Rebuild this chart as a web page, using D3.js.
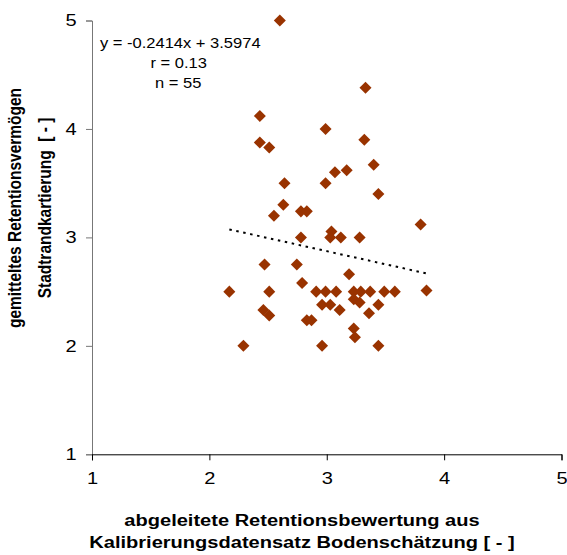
<!DOCTYPE html>
<html lang="de">
<meta charset="utf-8">
<head>
    <script src="https://d3js.org/d3.v7.min.js"></script>
    <style>
        body { margin: 0; background: #fff; }
        text { font-family: Arial, "Liberation Sans", sans-serif; white-space: pre; }
    </style>
</head>
<body>
<script>
// Bodenschätzung (x) vs. Stadtrandkartierung (y)
const xValues = [2.60, 3.33, 2.43, 2.99, 2.43, 2.51, 3.32, 3.40, 3.07, 3.17,
                 2.64, 2.99, 3.44, 2.63, 2.55, 2.78, 2.83, 3.80, 2.78, 3.04,
                 3.03, 3.12, 3.28, 2.47, 2.745, 3.19, 2.79, 2.17, 2.51, 2.91,
                 2.99, 3.08, 3.23, 3.29, 3.37, 3.49, 3.58, 3.85, 2.46, 2.51,
                 2.96, 3.03, 3.11, 3.23, 3.28, 3.44, 3.36, 2.83, 2.87, 3.23,
                 3.24, 2.29, 2.96, 3.44];
const yValues = [5.00, 4.38, 4.12, 4.00, 3.875, 3.83, 3.90, 3.67, 3.60, 3.62,
                 3.50, 3.50, 3.40, 3.30, 3.20, 3.24, 3.24, 3.12, 3.00, 3.055,
                 3.00, 3.00, 3.00, 2.75, 2.75, 2.66, 2.58, 2.50, 2.50, 2.50,
                 2.50, 2.50, 2.50, 2.50, 2.50, 2.50, 2.50, 2.51, 2.33, 2.28,
                 2.38, 2.38, 2.33, 2.43, 2.40, 2.38, 2.30, 2.235, 2.235, 2.16,
                 2.08, 2.00, 2.00, 2.00];
const xTicks = [1, 2, 3, 4, 5];
const yTicks = [1, 2, 3, 4, 5];
const slope = -0.2414, intercept = 3.5974;
const statLines = ["y = -0.2414x + 3.5974", "r = 0.13", "n = 55"];
const xTitle = ["abgeleitete Retentionsbewertung aus", "Kalibrierungsdatensatz Bodenschätzung [ - ]"];
const yTitle = ["gemitteltes Retentionsvermögen", "Stadtrandkartierung  [ - ]"];

const W = 567, H = 555;
const plot = {left: 92, right: 561.5, top: 20.5, bottom: 454.3};
const sx = 1.18; // horizontal stretch of the original picture's text

const svg = d3.select("body").append("svg")
    .attr("width", W).attr("height", H);

const x = d3.scaleLinear().domain([1, 5]).range([plot.left, plot.right]);
const y = d3.scaleLinear().domain([1, 5]).range([plot.bottom, plot.top]);

const data = xValues.map((v, i) => ({x: v, y: yValues[i]}));

// axes
const yAxis = svg.append("g")
    .attr("transform", "translate(" + plot.left + ",0)")
    .call(d3.axisLeft(y).tickValues(yTicks).tickFormat(d3.format("d")).tickSizeOuter(0).tickSize(6).tickPadding(7));
yAxis.select(".domain").attr("stroke", "#777");
yAxis.selectAll(".tick line").attr("stroke", "#777");

const xAxis = svg.append("g")
    .attr("transform", "translate(0," + plot.bottom + ")")
    .call(d3.axisBottom(x).tickValues(xTicks).tickFormat(d3.format("d")).tickSizeOuter(0).tickSize(6).tickPadding(9));
xAxis.select(".domain").attr("stroke", "#000");
xAxis.selectAll(".tick line").attr("stroke", "#000");

svg.selectAll(".tick text")
    .attr("font-size", 17)
    .attr("fill", "#000")
    .attr("transform", "scale(" + sx + ",1)")
    .attr("font-family", "Arial, 'Liberation Sans', sans-serif");
xAxis.selectAll(".tick text").attr("dy", "0.85em");

// regression line
const ext = d3.extent(xValues);
svg.append("path")
    .datum(ext.map(v => ({x: v, y: slope * v + intercept})))
    .attr("fill", "none")
    .attr("stroke", "#000")
    .attr("stroke-width", 2)
    .attr("stroke-dasharray", "2.5,4.6")
    .attr("d", d3.line().x(d => x(d.x)).y(d => y(d.y)));

// points
svg.append("g").selectAll("path")
    .data(data)
    .join("path")
    .attr("transform", d => "translate(" + x(d.x) + "," + y(d.y) + ")")
    .attr("d", d3.symbol().type(d3.symbolDiamond2).size(92))
    .attr("fill", "#993300");

// stats text
const stats = svg.append("g");
[[100, 47.5], [150.5, 68], [155, 87.5]].forEach((p, i) => {
    stats.append("text")
        .attr("transform", "translate(" + p[0] + "," + p[1] + ") scale(" + sx + ",1)")
        .attr("font-size", 14)
        .text(statLines[i]);
});

// axis titles
xTitle.forEach((t, i) => {
    svg.append("text")
        .attr("transform", "translate(302," + (526 + i * 22) + ") scale(" + sx + ",1)")
        .attr("text-anchor", "middle")
        .attr("font-size", 17)
        .attr("font-weight", "bold")
        .text(t);
});
yTitle.forEach((t, i) => {
    svg.append("text")
        .attr("transform", "translate(" + (21 + i * 30) + ",208) scale(" + sx + ",1) rotate(-90)")
        .attr("text-anchor", "middle")
        .attr("font-size", 15.5)
        .attr("font-weight", "bold")
        .text(t);
});
</script>
</body>
</html>
